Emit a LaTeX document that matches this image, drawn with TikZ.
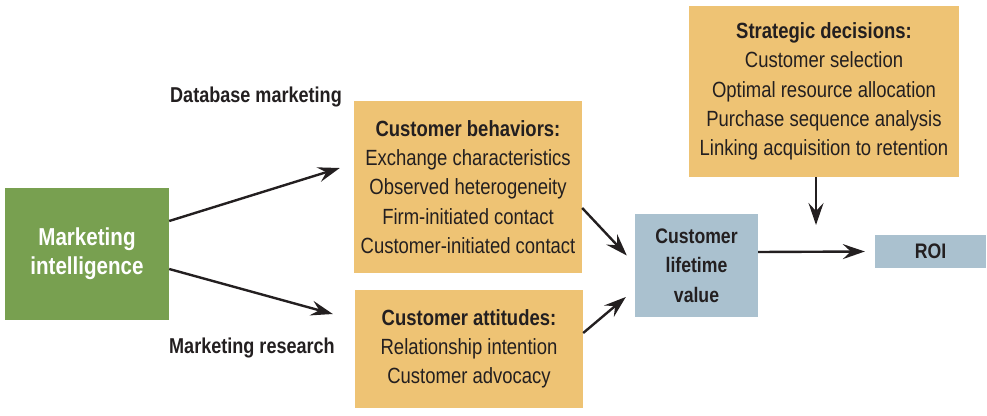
\documentclass[tikz,border=0pt]{standalone}
\usepackage{fontspec}
\setmainfont{Liberation Sans}[FakeStretch=0.84]
\usetikzlibrary{arrows.meta}
\definecolor{mgreen}{HTML}{78A050}
\definecolor{mgold}{HTML}{EEC374}
\definecolor{mblue}{HTML}{AAC1CF}
\definecolor{mink}{HTML}{231F20}
\tikzset{
  box/.style={draw=none, inner sep=0pt, align=center, text=mink,
    font=\fontsize{22}{29.2}\selectfont},
  goldbox/.style={box, fill=mgold},
  bluebox/.style={box, fill=mblue, font=\fontsize{21}{29.5}\selectfont\bfseries},
  lbl/.style={text=mink, font=\fontsize{21.5}{24}\selectfont\bfseries},
  link/.style={draw=mink, line width=2.4pt,
    -{Stealth[length=22pt,width=15pt,inset=8pt]}}
}
\begin{document}
\begin{tikzpicture}[x=1pt,y=-1pt]
\useasboundingbox (0,0) rectangle (987,415);

\node[box, fill=mgreen, text=white, minimum width=164pt, minimum height=132pt,
  font=\fontsize{24.5}{29}\selectfont\bfseries] (mi) at (87,254)
  {Marketing\\intelligence};

\node[goldbox, minimum width=228pt, minimum height=172pt] (cb) at (468,187)
  {\textbf{Customer behaviors:}\\Exchange characteristics\\Observed heterogeneity\\Firm-initiated contact\\Customer-initiated contact};

\node[goldbox, minimum width=228pt, minimum height=118pt] (ca) at (469,349)
  {\textbf{Customer attitudes:}\\Relationship intention\\Customer advocacy};

\node[goldbox, minimum width=270pt, minimum height=171pt] (sd) at (824,91.5)
  {\textbf{Strategic decisions:}\\Customer selection\\Optimal resource allocation\\Purchase sequence analysis\\Linking acquisition to retention};

\node[bluebox, minimum width=123pt, minimum height=103pt] (clv) at (696.5,265.5)
  {Customer\\lifetime\\value};

\node[bluebox, minimum width=111pt, minimum height=33pt] (roi) at (930.5,251.5) {ROI};

\node[lbl] (dbm) at (256,97) {Database marketing};
\node[lbl] (mr) at (252,348) {Marketing research};

\coordinate (sdend) at (816,225);

\draw[link] ([yshift=33pt]mi.east) -- ([xshift=-14pt,yshift=19pt]cb.west);
\draw[link] ([yshift=-15pt]mi.east) -- ([xshift=-22pt,yshift=35pt]ca.west);
\draw[link] ([yshift=-21pt]cb.east) -- ([xshift=-8pt,yshift=10pt]clv.west);
\draw[link] ([yshift=16pt]ca.east) -- ([xshift=-9pt,yshift=-31.5pt]clv.west);
\draw[link] ([yshift=13.5pt]clv.east) -- ([xshift=-10pt]roi.west);
\draw[link] ([xshift=-8pt]sd.south) -- (sdend);
\end{tikzpicture}
\end{document}
